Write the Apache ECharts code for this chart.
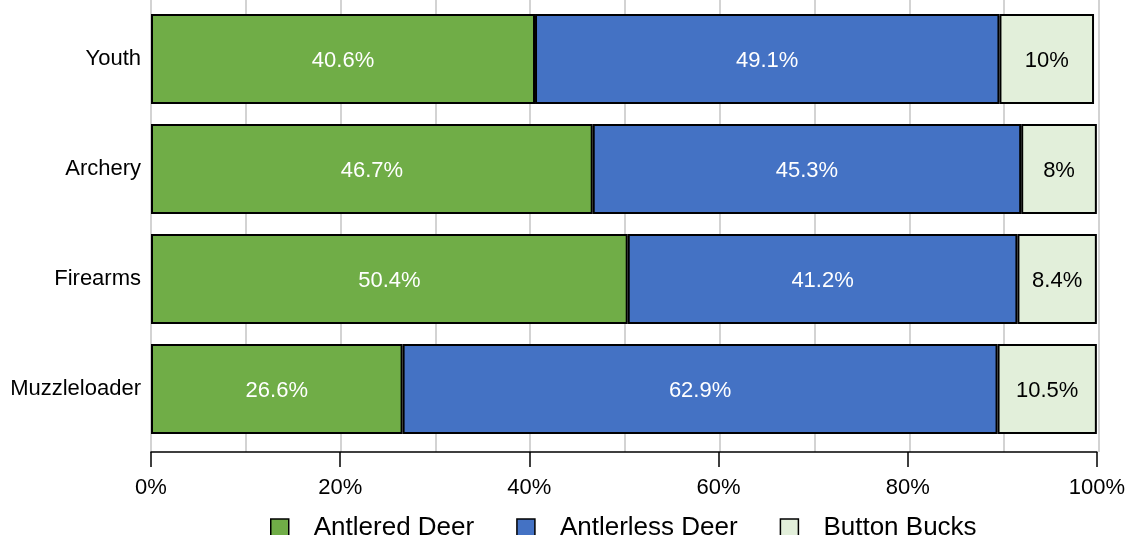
<!DOCTYPE html>
<html>
<head>
<meta charset="utf-8">
<script src="https://cdn.jsdelivr.net/npm/echarts@6/dist/echarts.min.js"></script>
<style>
  html, body { margin: 0; padding: 0; background: #ffffff; }
  #chart { width: 1128px; height: 535px; }
</style>
</head>
<body>
<div id="chart"></div>
<script>
// Deer harvest composition by hunting season (percent of harvest)
const seasons = ['Youth', 'Archery', 'Firearms', 'Muzzleloader'];
const antlered = [40.6, 46.7, 50.4, 26.6];
const antlerless = [49.1, 45.3, 41.2, 62.9];
const buttonBucks = [10, 8, 8.4, 10.5];
const xTicks = [0, 20, 40, 60, 80, 100];

const FONT = '"Liberation Sans", Arial, "DejaVu Sans", sans-serif';

function seriesOf(name, values, color, labelColor) {
  return {
    name: name,
    type: 'bar',
    stack: 'total',
    xAxisIndex: 0,
    yAxisIndex: 0,
    barWidth: 90,
    data: values,
    itemStyle: { color: color, borderColor: '#000000', borderWidth: 2 },
    label: {
      show: true,
      position: 'inside',
      offset: [0, 2],
      color: labelColor,
      fontSize: 22,
      fontFamily: FONT,
      formatter: p => p.value + '%'
    }
  };
}

const chart = echarts.init(document.getElementById('chart'), null, { renderer: 'canvas' });
chart.setOption({
  animation: false,
  backgroundColor: '#ffffff',
  textStyle: { fontFamily: FONT },
  grid: [
    { left: 151, right: 29, top: 4, height: 440 },
    { left: 151, right: 29, top: 0, height: 452 }
  ],
  xAxis: [
    {
      type: 'value',
      gridIndex: 0,
      min: xTicks[0],
      max: xTicks[xTicks.length - 1],
      interval: 20,
      offset: 8,
      axisLine: { show: true, lineStyle: { color: '#000000', width: 1.5 } },
      axisTick: { show: true, length: 15, lineStyle: { color: '#000000', width: 1.5 } },
      axisLabel: { color: '#000000', fontSize: 22, fontFamily: FONT, margin: 25, formatter: '{value}%' },
      splitLine: { show: false }
    },
    {
      type: 'value',
      gridIndex: 1,
      min: 0,
      max: 100,
      interval: 10,
      axisLine: { show: false },
      axisTick: { show: false },
      axisLabel: { show: false },
      splitLine: { show: true, lineStyle: { color: '#c4c4c4', width: 1.5 } }
    }
  ],
  yAxis: [
    {
      type: 'category',
      gridIndex: 0,
      data: seasons,
      inverse: true,
      axisLine: { show: false },
      axisTick: { show: false },
      axisLabel: { color: '#000000', fontSize: 22, fontFamily: FONT, margin: 10, padding: [4, 0, 0, 0] }
    },
    {
      type: 'category',
      gridIndex: 1,
      data: seasons,
      show: false
    }
  ],
  legend: {
    data: ['Antlered Deer', 'Antlerless Deer', 'Button Bucks'],
    left: 270,
    top: 515,
    padding: 0,
    itemWidth: 18,
    itemHeight: 18,
    itemGap: 42,
    icon: 'rect',
    itemStyle: { borderColor: '#000000', borderWidth: 1.5 },
    textStyle: { color: '#000000', fontSize: 26, fontFamily: FONT, padding: [0, 0, 0, 20] }
  },
  series: [
    seriesOf('Antlered Deer', antlered, '#70ad47', '#ffffff'),
    seriesOf('Antlerless Deer', antlerless, '#4472c4', '#ffffff'),
    seriesOf('Button Bucks', buttonBucks, '#e2efda', '#000000')
  ]
});
</script>
</body>
</html>
